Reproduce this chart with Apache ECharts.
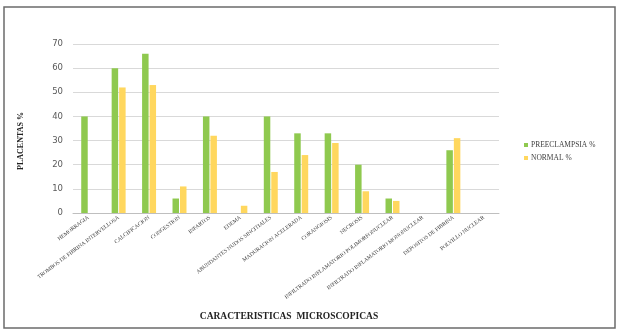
<!DOCTYPE html>
<html><head><meta charset="utf-8">
<script src="https://cdn.jsdelivr.net/npm/echarts@6/dist/echarts.min.js"></script>
<style>html,body{margin:0;padding:0;background:#fff}#c{width:624px;height:330px}</style>
</head><body><div id="c"></div>
<script>
const categories = ["HEMORRAGIA","TROMBOS DE FIBRINA INTERVELLOSA","CALCIFICACION","CONGESTION","INFARTOS","EDEMA","ABUNDANTES NUDOS SINCITIALES","MADURACION ACELERADA","CORANGIOSIS","NECROSIS","INFILTRADO INFLAMATORIO POLIMORFONUCLEAR","INFILTRADO INFLAMATORIO MONONUCLEAR","DEPOSITOS DE FIBRINA","POLVILLO NUCLEAR"];
const preeclampsia = [40,60,66,6,40,0,40,33,33,20,6,0,26,0];
const normal = [0,52,53,11,32,3,17,24,29,9,5,0,31,0];
const yTicks = {min:0, max:70, interval:10};
const seriesNames = ["PREECLAMPSIA %","NORMAL %"];

const chart = echarts.init(document.getElementById('c'), null, {renderer:'canvas'});
const serif = "'Liberation Serif','DejaVu Serif',serif";
chart.setOption({
  animation:false,
  backgroundColor:'#fff',
  graphic:[
    {type:'rect',shape:{x:4,y:7,width:611,height:321},style:{fill:'none',stroke:'#6b6b6b',lineWidth:1.5},z:100},
    {type:'text',x:21,y:141,rotation:Math.PI/2,style:{text:'PLACENTAS %',fontFamily:serif,fontWeight:'bold',fontSize:8,fill:'#222',align:'center',verticalAlign:'middle'}},
    {type:'text',x:289,y:317,style:{text:'CARACTERISTICAS  MICROSCOPICAS',fontFamily:serif,fontWeight:'bold',fontSize:9.5,fill:'#222',align:'center',verticalAlign:'middle'}}
  ],
  grid:{left:73,right:125,top:44,bottom:117,outerBoundsMode:'none',containLabel:false},
  legend:{orient:'vertical',left:519,top:136,itemWidth:4,itemHeight:4,itemGap:5,icon:'rect',
    textStyle:{fontFamily:serif,fontSize:7.5,color:'#404040',padding:[0,0,0,-2]},data:seriesNames},
  xAxis:{type:'category',data:categories,
    axisLine:{lineStyle:{color:'#bfbfbf',width:1}},axisTick:{show:false},
    axisLabel:{interval:0,rotate:37,fontFamily:serif,fontSize:5.5,color:'#404040',margin:4}},
  yAxis:{type:'value',min:yTicks.min,max:yTicks.max,interval:yTicks.interval,
    axisLine:{show:false},axisTick:{show:false},
    splitLine:{lineStyle:{color:'#d9d9d9',width:1}},
    axisLabel:{fontFamily:"'DejaVu Sans',sans-serif",fontSize:8.5,color:'#595959',margin:10}},
  series:[
    {name:seriesNames[0],type:'bar',data:preeclampsia,barWidth:6.5,barGap:'15%',
     itemStyle:{color:'#8fc94f'}},
    {name:seriesNames[1],type:'bar',data:normal,barWidth:6.5,
     itemStyle:{color:'#ffd75e'}}
  ]
});
</script></body></html>
